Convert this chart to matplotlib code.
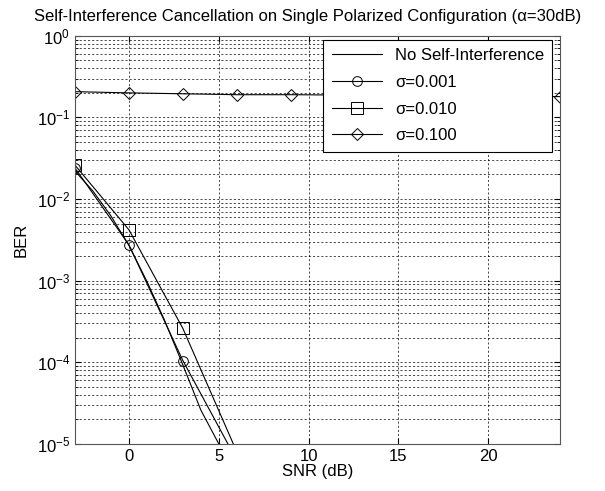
import numpy as np
import matplotlib
matplotlib.use('Agg')
import matplotlib.pyplot as plt

plt.rcParams['font.family'] = ['Liberation Sans', 'DejaVu Sans']
plt.rcParams['mathtext.fontset'] = 'custom'
plt.rcParams['mathtext.rm'] = 'Liberation Sans'
plt.rcParams['mathtext.it'] = 'Liberation Sans'

# --- data ---
snr_nosi = [-3, -2, -1, 0, 1, 2, 3, 4, 5, 6]
ber_nosi = [0.022, 0.0125, 0.0062, 0.0027, 0.00098, 3.2e-4, 9.3e-5, 2.6e-5, 1.0e-5, 2e-6]

snr_sig = [-3, 0, 3, 6, 9, 12, 15, 18, 21, 24]
ber_s001 = [0.024, 0.00275, 1.05e-4, 6.3e-6]
ber_s010 = [0.026, 0.0042, 2.6e-4, 8e-6]
ber_s100 = [0.207, 0.200, 0.195, 0.190, 0.190, 0.188, 0.186, 0.184, 0.182, 0.180]

labels = ['No Self-Interference', 'σ=0.001', 'σ=0.010', 'σ=0.100']

fig = plt.figure(figsize=(6.05, 4.91), dpi=100)
ax = fig.add_axes([0.124, 0.096, 0.802, 0.831])

lw = 0.8
ms = 7
ax.semilogy(snr_nosi, ber_nosi, 'k-', lw=lw, label=labels[0])
ax.semilogy(snr_sig[:4], ber_s001, 'k-o', lw=lw, ms=ms, mfc='none', mew=0.7, label=labels[1])
ax.semilogy(snr_sig[:4], ber_s010, 'k-s', lw=lw, ms=ms + 1, mfc='none', mew=0.7, label=labels[2])
ax.semilogy(snr_sig, ber_s100, 'k-D', lw=lw, ms=ms - 1, mfc='none', mew=0.7, label=labels[3])

ax.set_xlim(-3, 24)
ax.set_ylim(1e-5, 1)
ax.set_xticks([0, 5, 10, 15, 20])
ax.set_yticks([1e-5, 1e-4, 1e-3, 1e-2, 1e-1, 1])

ax.grid(True, which='major', color='black', linestyle=(0, (3, 3)), lw=0.5)
ax.grid(True, which='minor', axis='y', color='black', linestyle=(0, (3, 3)), lw=0.5)
ax.tick_params(which='both', direction='in', labelsize=12, length=4)
ax.tick_params(which='minor', length=2)
ax.tick_params(top=True, right=True, which='both')
for s in ax.spines.values():
    s.set_color('#555555')
    s.set_linewidth(0.8)

ax.set_xlabel('SNR (dB)', fontsize=12, labelpad=0)
ax.set_ylabel('BER', fontsize=12, labelpad=6)
ax.set_title('Self-Interference Cancellation on Single Polarized Configuration (α=30dB)',
             fontsize=12, pad=11, x=0.48)

leg = ax.legend(loc='upper right', bbox_to_anchor=(0.984, 0.99), fontsize=12,
                handlelength=3.0, fancybox=False, framealpha=1, edgecolor='black',
                borderaxespad=0, labelspacing=0.7, borderpad=0.5)
leg.get_frame().set_linewidth(0.8)

fig.savefig('out.png', dpi=100)
